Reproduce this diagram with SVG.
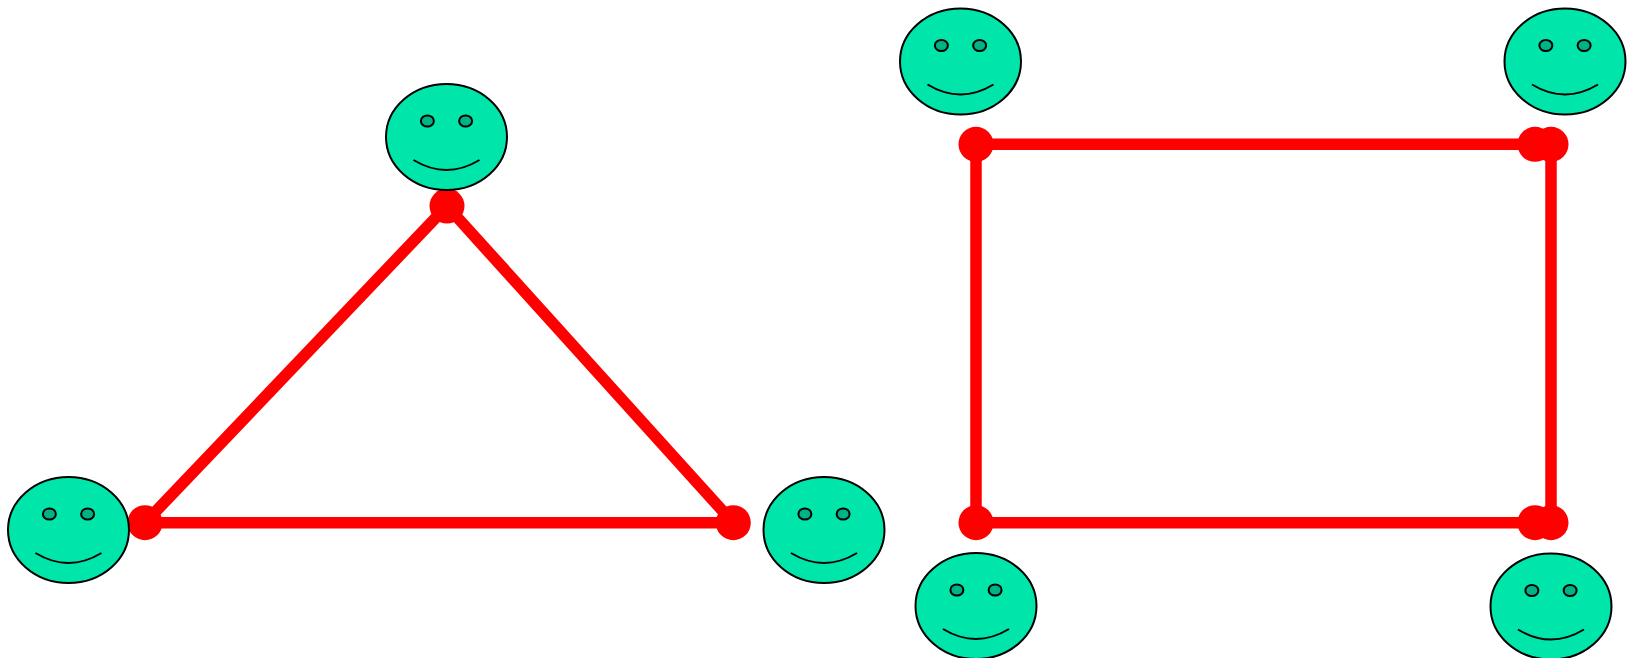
<svg xmlns="http://www.w3.org/2000/svg" width="1628" height="658" viewBox="0 0 1628 658">
<defs>
<style>
.face{fill:#00E5A9;stroke:#000;stroke-width:2;vector-effect:non-scaling-stroke}
.eye{fill:#00B386;stroke:#000;stroke-width:2;vector-effect:non-scaling-stroke}
.mouth{fill:none;stroke:#000;stroke-width:2}
.edge{stroke:#FF0000;stroke-width:11.5;fill:none}
.end{fill:#FF0000}
</style>
</defs>
<rect width="1628" height="658" fill="#fff"/>
<g id="connectors">
<line class="edge" x1="447" y1="206" x2="145" y2="522.7"/>
<line class="edge" x1="447" y1="206" x2="733.3" y2="522.7"/>
<line class="edge" x1="145" y1="522.7" x2="733.3" y2="522.7"/>
<line class="edge" x1="976" y1="144.3" x2="1535" y2="144.3"/>
<line class="edge" x1="1551" y1="144.3" x2="1551" y2="522.7"/>
<line class="edge" x1="976" y1="522.7" x2="1535" y2="522.7"/>
<line class="edge" x1="976" y1="144.3" x2="976" y2="522.7"/>
<circle class="end" cx="447" cy="206" r="17.5"/>
<circle class="end" cx="145" cy="522.7" r="17.5"/>
<circle class="end" cx="733.3" cy="522.7" r="17.5"/>
<circle class="end" cx="976" cy="144.3" r="17.5"/>
<circle class="end" cx="1535" cy="144.3" r="17.5"/>
<circle class="end" cx="1551" cy="144.3" r="17.5"/>
<circle class="end" cx="976" cy="522.7" r="17.5"/>
<circle class="end" cx="1535" cy="522.7" r="17.5"/>
<circle class="end" cx="1551" cy="522.7" r="17.5"/>
</g>
<g id="node-tri-top" transform="translate(446.5 137)">
<circle class="face" r="53" transform="scale(1.1415 1)"/>
<circle class="eye" cx="-16.2" cy="-16" r="5.5" transform="scale(1.18 1)"/>
<circle class="eye" cx="16.2" cy="-16" r="5.5" transform="scale(1.18 1)"/>
<path class="mouth" d="M -33 23 Q 0 43 33 23"/>
</g>
<g id="node-tri-left" transform="translate(68.5 530)">
<circle class="face" r="53" transform="scale(1.1415 1)"/>
<circle class="eye" cx="-16.2" cy="-16" r="5.5" transform="scale(1.18 1)"/>
<circle class="eye" cx="16.2" cy="-16" r="5.5" transform="scale(1.18 1)"/>
<path class="mouth" d="M -33 23 Q 0 43 33 23"/>
</g>
<g id="node-tri-right" transform="translate(824 530)">
<circle class="face" r="53" transform="scale(1.1415 1)"/>
<circle class="eye" cx="-16.2" cy="-16" r="5.5" transform="scale(1.18 1)"/>
<circle class="eye" cx="16.2" cy="-16" r="5.5" transform="scale(1.18 1)"/>
<path class="mouth" d="M -33 23 Q 0 43 33 23"/>
</g>
<g id="node-sq-tl" transform="translate(960.5 61.5)">
<circle class="face" r="53" transform="scale(1.1415 1)"/>
<circle class="eye" cx="-16.2" cy="-16" r="5.5" transform="scale(1.18 1)"/>
<circle class="eye" cx="16.2" cy="-16" r="5.5" transform="scale(1.18 1)"/>
<path class="mouth" d="M -33 23 Q 0 43 33 23"/>
</g>
<g id="node-sq-tr" transform="translate(1565 61.5)">
<circle class="face" r="53" transform="scale(1.1415 1)"/>
<circle class="eye" cx="-16.2" cy="-16" r="5.5" transform="scale(1.18 1)"/>
<circle class="eye" cx="16.2" cy="-16" r="5.5" transform="scale(1.18 1)"/>
<path class="mouth" d="M -33 23 Q 0 43 33 23"/>
</g>
<g id="node-sq-bl" transform="translate(976 606)">
<circle class="face" r="53" transform="scale(1.1415 1)"/>
<circle class="eye" cx="-16.2" cy="-16" r="5.5" transform="scale(1.18 1)"/>
<circle class="eye" cx="16.2" cy="-16" r="5.5" transform="scale(1.18 1)"/>
<path class="mouth" d="M -33 23 Q 0 43 33 23"/>
</g>
<g id="node-sq-br" transform="translate(1551 606.5)">
<circle class="face" r="53" transform="scale(1.1415 1)"/>
<circle class="eye" cx="-16.2" cy="-16" r="5.5" transform="scale(1.18 1)"/>
<circle class="eye" cx="16.2" cy="-16" r="5.5" transform="scale(1.18 1)"/>
<path class="mouth" d="M -33 23 Q 0 43 33 23"/>
</g>
</svg>
